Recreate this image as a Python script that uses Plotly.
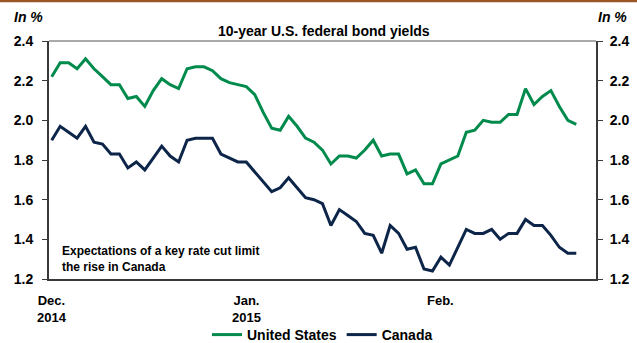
import plotly.graph_objects as go

# 10-year federal bond yields, daily closes (in %), Dec. 2014 to Feb. 2015
day_index = list(range(63))
us_yield = [
    2.22, 2.29, 2.29, 2.26, 2.31, 2.26, 2.22, 2.18, 2.18, 2.11,
    2.12, 2.07, 2.15, 2.21, 2.18, 2.16, 2.26, 2.27, 2.27, 2.25,
    2.21, 2.19, 2.18, 2.17, 2.13, 2.04, 1.96, 1.95, 2.02, 1.97,
    1.91, 1.89, 1.85, 1.78, 1.82, 1.82, 1.81, 1.85, 1.90, 1.82,
    1.83, 1.83, 1.73, 1.75, 1.68, 1.68, 1.78, 1.80, 1.82, 1.94,
    1.95, 2.00, 1.99, 1.99, 2.03, 2.03, 2.16, 2.08, 2.12, 2.15,
    2.07, 2.00, 1.98,
]
canada_yield = [
    1.90, 1.97, 1.94, 1.91, 1.97, 1.89, 1.88, 1.83, 1.83, 1.76,
    1.79, 1.75, 1.81, 1.87, 1.82, 1.79, 1.90, 1.91, 1.91, 1.91,
    1.83, 1.81, 1.79, 1.79, 1.74, 1.69, 1.64, 1.66, 1.71, 1.66,
    1.61, 1.60, 1.58, 1.47, 1.55, 1.52, 1.49, 1.43, 1.42, 1.33,
    1.47, 1.43, 1.35, 1.36, 1.25, 1.24, 1.31, 1.27, 1.36, 1.45,
    1.43, 1.43, 1.45, 1.40, 1.43, 1.43, 1.50, 1.47, 1.47, 1.42,
    1.36, 1.33, 1.33,
]
series_names = ["United States", "Canada"]
series_colors = ["#008b4c", "#0c2548"]
series_axes = ["y", "y2"]  # both scales share the same range

# month labels sit at the first trading day of each month
month_pos = [0, 23, 46]
month_labels = ["Dec.<br>2014", "Jan.<br>2015", "Feb.<br> "]

y_ticks = [1.2, 1.4, 1.6, 1.8, 2.0, 2.2, 2.4]

W, H = 637, 343
ML, MR, MT, MB = 49, 41, 41, 64
PW, PH = W - ML - MR, H - MT - MB


def px(x):
    return (x - ML) / PW


def py(y):
    return (H - MB - y) / PH


FONT = "Arial, Liberation Sans, sans-serif"
AXIS = "#3a3a3a"

fig = go.Figure()
for name, vals, col, ax in zip(series_names, [us_yield, canada_yield],
                               series_colors, series_axes):
    fig.add_trace(go.Scatter(
        x=day_index, y=vals, mode="lines", name=name, yaxis=ax,
        line=dict(color=col, width=3),
    ))

yaxis_common = dict(
    range=[1.2, 2.4], tickvals=y_ticks, tickformat=".1f",
    showgrid=False, zeroline=False, showline=True,
    linecolor=AXIS, linewidth=2, ticks="outside", ticklen=5,
    tickcolor=AXIS, tickwidth=1,
    tickfont=dict(family=FONT, size=14, color="black", weight="bold"),
)

fig.update_layout(
    width=W, height=H,
    margin=dict(l=ML, r=MR, t=MT, b=MB, pad=0, autoexpand=False),
    paper_bgcolor="white", plot_bgcolor="white",
    showlegend=True,
    legend=dict(
        orientation="h", x=0.5, xanchor="center", y=py(335), yanchor="middle",
        font=dict(family=FONT, size=14, color="black", weight="bold"),
        itemwidth=30, tracegroupgap=0, bgcolor="rgba(0,0,0,0)",
    ),
    xaxis=dict(
        range=[-0.32, 64.33], showgrid=False, zeroline=False,
        showline=True, linecolor=AXIS, linewidth=2,
        showticklabels=False, ticks="",
    ),
    yaxis=dict(**yaxis_common, side="left", ticklabelstandoff=6),
    yaxis2=dict(**yaxis_common, side="right", overlaying="y",
                anchor="x", ticklabelstandoff=4),
)

annotations = []
for pos, label in zip(month_pos, month_labels):
    annotations.append(dict(
        x=pos, xref="x", y=py(309), yref="paper", text=label,
        showarrow=False, xanchor="center", yanchor="middle",
        font=dict(family=FONT, size=13, color="black", weight="bold"),
    ))

annotations += [
    dict(x=px(323.5), y=py(31), xref="paper", yref="paper",
         text="10-year U.S. federal bond yields", showarrow=False,
         xanchor="center", yanchor="middle",
         font=dict(family=FONT, size=14, color="black", weight="bold")),
    dict(x=px(12), y=py(17), xref="paper", yref="paper", text="<i>In %</i>",
         showarrow=False, xanchor="left", yanchor="middle",
         font=dict(family=FONT, size=14, color="black", weight="bold")),
    dict(x=px(629), y=py(17), xref="paper", yref="paper", text="<i>In %</i>",
         showarrow=False, xanchor="right", yanchor="middle",
         font=dict(family=FONT, size=14, color="black", weight="bold")),
    dict(x=px(60), y=py(259), xref="paper", yref="paper",
         text="Expectations of a key rate cut limit<br>the rise in Canada",
         showarrow=False, xanchor="left", yanchor="middle", align="left",
         font=dict(family=FONT, size=12, color="black", weight="bold")),
]
fig.update_layout(annotations=annotations)

# brown rule across the top of the page and thin frame line over the plot
fig.add_shape(type="line", xref="paper", yref="paper",
              x0=px(0), x1=px(W), y0=py(1), y1=py(1),
              line=dict(color="#9c5524", width=2.5))
fig.add_shape(type="line", xref="paper", yref="paper",
              x0=0, x1=1, y0=1, y1=1,
              line=dict(color="#555555", width=1))

fig.write_html("out.html")
